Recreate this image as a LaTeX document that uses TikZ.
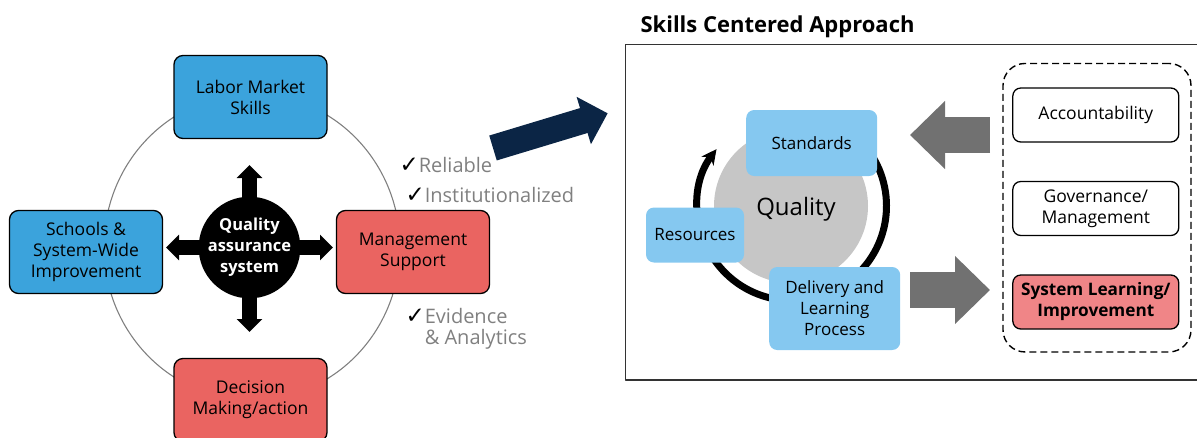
\documentclass[tikz,border=0pt]{standalone}
\usepackage{fontspec}
\setmainfont{Open Sans}
\newfontfamily\symfont{DejaVu Sans}
\usetikzlibrary{arrows.meta,positioning}
\definecolor{boxblue}{HTML}{3BA3DC}
\definecolor{boxred}{HTML}{EA6461}
\definecolor{skyblue}{HTML}{85C8F0}
\definecolor{pinkred}{HTML}{F08587}
\definecolor{navy}{HTML}{0B2545}
\definecolor{arrowgray}{HTML}{717171}
\definecolor{qgray}{HTML}{C6C6C6}
\definecolor{textgray}{HTML}{808080}
\newcommand{\chk}{{\color{black}\symfont\fontsize{23}{21}\selectfont ✓}}
\newcommand{\fs}[1]{\fontsize{#1}{21}\selectfont}
\begin{document}
\begin{tikzpicture}[x=1pt,y=-1pt,line join=round]
		\tikzset{qbox/.style={draw=black,line width=1.3pt,rounded corners=9pt,minimum width=153pt,minimum height=83pt,align=center,font=\fs{17.5}},
			rbox/.style={draw=black,line width=1.3pt,rounded corners=8pt,fill=white,minimum width=166pt,minimum height=54pt,align=center,font=\fs{17.5}},
			sbox/.style={fill=skyblue,rounded corners=8pt,align=center,font=\fs{17}},
			checkitem/.style={anchor=west,text=textgray,align=left,font=\fs{20}},
			fat/.style={line width=15pt,-{Triangle[width=25pt,length=13pt]}},
			bigarrow/.style={arrowgray,line width=36pt,-{Triangle[width=66pt,length=35pt]}}}
		\useasboundingbox (0,0) rectangle (1197,437);
		% left: quality assurance cycle
		\draw[black!50,line width=1.1pt] (252,247) ellipse [x radius=148,y radius=153];
		\coordinate (hub) at (249.5,247.5);
		\coordinate (qasN) at (249.5,165);
		\coordinate (qasS) at (249.5,332);
		\coordinate (qasW) at (166,247.5);
		\coordinate (qasE) at (333,247.5);
		\foreach \tip in {qasN,qasS,qasW,qasE}
		\draw[fat] (hub) -- (\tip);
		\node[circle,fill=black,minimum size=98pt,inner sep=0pt,text=white,align=center,font=\bfseries\fs{16.5}] (qas) at (hub) {Quality\\assurance\\system};
		\node[qbox,fill=boxblue] (labor) at (250.5,97) {Labor Market\\Skills};
		\node[qbox,fill=boxblue] (schools) at (86,252) {Schools \&\\System-Wide\\Improvement};
		\node[qbox,fill=boxred] (mgmt) at (413,252) {Management\\Support};
		\node[qbox,fill=boxred] (decision) at (250.5,400) {Decision\\Making/action};
		\node[checkitem] (reliable) at (396,165) {\chk Reliable};
		\node[checkitem] (inst) at (402,195) {\chk Institutionalized};
		\node[checkitem] (evid) at (402,329) {\chk Evidence\\\phantom{\chk}\& Analytics};
		% link arrow
		\coordinate (navyTail) at (493,148);
		\coordinate (navyTip) at (607.7,113.3);
		\draw[navy,line width=26pt,-{Triangle[width=48pt,length=25pt]}] (navyTail) -- (navyTip);
		% right: skills centered approach
		\node[anchor=west,font=\bfseries\fs{22}] (title) at (637,27) {Skills Centered Approach};
		\draw[black!80,line width=1.5pt] (625.5,44.3) rectangle (1215,380);
		\draw[line width=7pt,-{Stealth[length=15pt,width=15pt]}] (792,206) ++(-40:94.5) arc[start angle=-40,end angle=217,radius=94.5];
		\node[circle,fill=qgray,minimum size=154pt,inner sep=0pt,font=\fs{24}] (quality) at (791,206) {};
		\node[font=\fs{24}] (qlabel) at (796,209) {Quality};
		\node[sbox,minimum width=131pt,minimum height=66pt] (standards) at (811.7,143) {Standards};
		\node[sbox,minimum width=98pt,minimum height=55pt] (resources) at (695,235) {Resources};
		\node[sbox,minimum width=131pt,minimum height=83pt] (delivery) at (834.7,308.5) {Delivery and\\Learning\\Process};
		\node[draw=black,line width=1.4pt,dash pattern=on 7pt off 4pt,rounded corners=22pt,minimum width=188pt,minimum height=288.5pt] (group) at (1097,207.7) {};
		\node[rbox] (account) at (1095.8,115) {Accountability};
		\node[rbox] (govern) at (1095.8,208.5) {Governance/\\Management};
		\node[rbox,fill=pinkred,font=\bfseries\fs{17.2}] (syslearn) at (1095.8,302) {System Learning/\\Improvement};
		\coordinate (inTail) at (990,135);
		\coordinate (inTip) at (910,135);
		\coordinate (outTail) at (910,290);
		\coordinate (outTip) at (990,290);
		\draw[bigarrow] (inTail) -- (inTip);
		\draw[bigarrow] (outTail) -- (outTip);
\end{tikzpicture}
\end{document}
